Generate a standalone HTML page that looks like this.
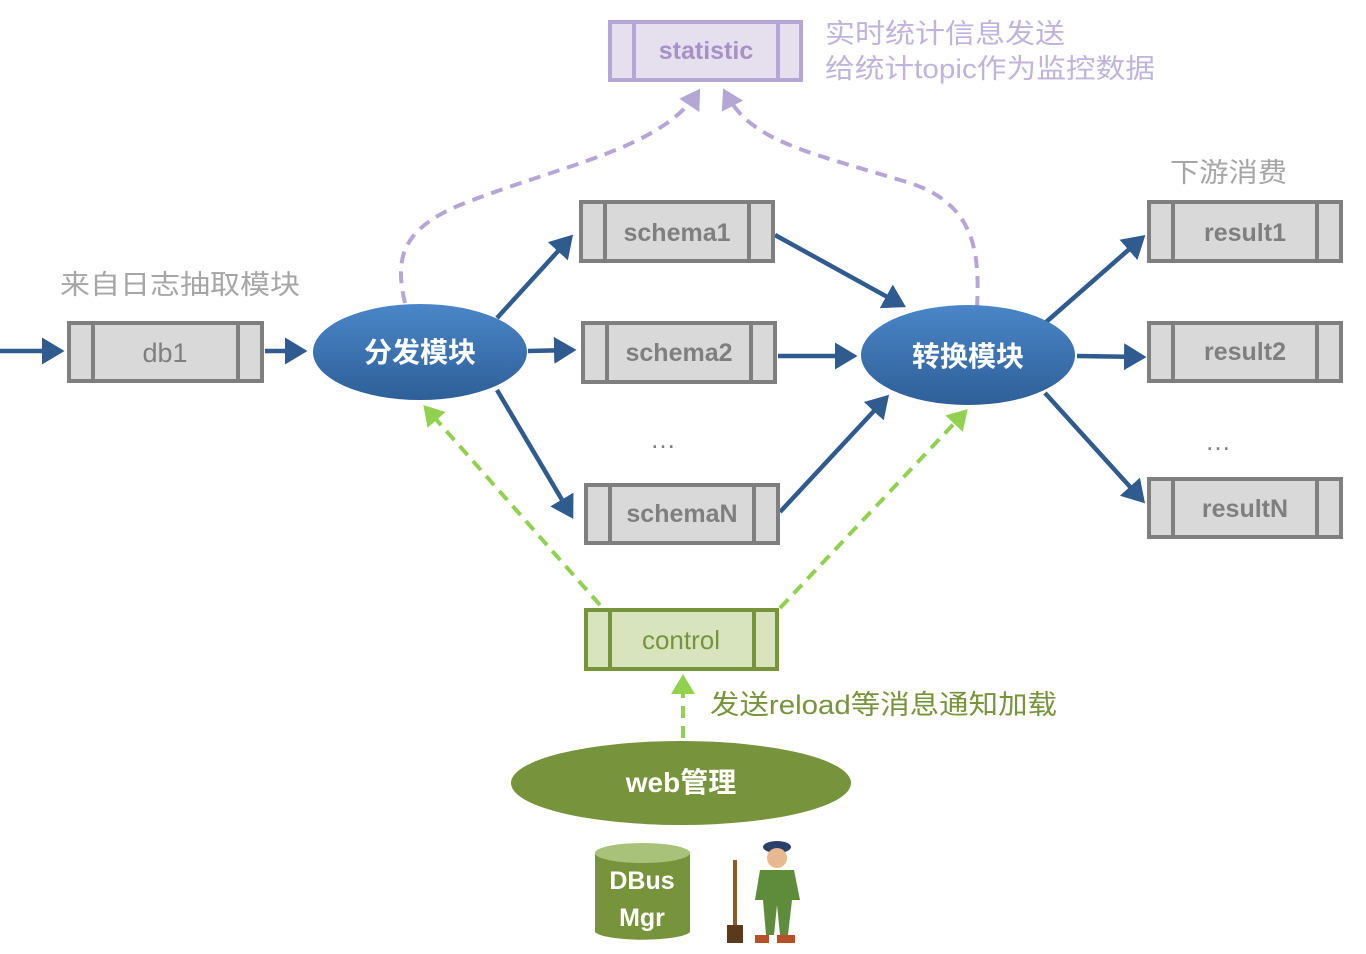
<!DOCTYPE html>
<html><head><meta charset="utf-8"><style>
html,body{margin:0;padding:0;background:#fff;}
svg{display:block}
text{font-family:"Liberation Sans","Noto Sans CJK SC",sans-serif;}
</style></head><body>
<svg width="1366" height="954" viewBox="0 0 1366 954" xmlns="http://www.w3.org/2000/svg">
<defs>
<marker id="ab" markerWidth="6" markerHeight="6" refX="4" refY="3" orient="auto" markerUnits="strokeWidth"><path d="M0,0 L5,3 L0,6 z" fill="#2f5b8e"/></marker>
<marker id="ap" markerWidth="6" markerHeight="6" refX="4" refY="3" orient="auto" markerUnits="strokeWidth"><path d="M0,0 L5,3 L0,6 z" fill="#b4a7d6"/></marker>
<marker id="ag" markerWidth="6" markerHeight="6" refX="4" refY="3" orient="auto" markerUnits="strokeWidth"><path d="M0,0 L5,3 L0,6 z" fill="#92d050"/></marker>
<linearGradient id="gb" x1="0" y1="0" x2="0" y2="1"><stop offset="0" stop-color="#4a86c8"/><stop offset="1" stop-color="#2e5f98"/></linearGradient>
</defs>

<g fill="none" stroke="#b4a7d6" stroke-width="4" stroke-dasharray="12,8">
<path d="M405,303 C395,260 400,230 460,205 C560,165 660,150 698,92" marker-end="url(#ap)"/>
<path d="M977,308 C980,250 975,200 900,180 C800,150 750,140 725,92" marker-end="url(#ap)"/>
</g>
<g fill="none" stroke="#92d050" stroke-width="4" stroke-dasharray="12,8">
<path d="M600,605 L426,408" marker-end="url(#ag)"/>
<path d="M780,608 L965,412" marker-end="url(#ag)"/>
<path d="M683,738 L683,678" marker-end="url(#ag)"/>
</g>
<g fill="none" stroke="#2f5b8e" stroke-width="4.5" marker-end="url(#ab)">
<path d="M0,351 L60,351"/>
<path d="M265,351 L303,351"/>
<path d="M497,318 L570,238"/>
<path d="M528,351 L572,350"/>
<path d="M497,390 L571,515"/>
<path d="M775,235 L902,305"/>
<path d="M778,356 L853,356"/>
<path d="M780,512 L886,398"/>
<path d="M1045,323 L1142,238"/>
<path d="M1077,356 L1142,357"/>
<path d="M1045,393 L1142,500"/>
</g>

<g stroke="#7f7f7f" stroke-width="4" fill="#d9d9d9">
<rect x="69" y="323" width="193" height="58"/><path d="M93,323V381M238,323V381"/>
<rect x="581" y="202" width="192" height="59"/><path d="M605,202V261M749,202V261"/>
<rect x="583" y="323" width="192" height="59"/><path d="M607,323V382M751,323V382"/>
<rect x="586" y="485" width="192" height="58"/><path d="M610,485V543M754,485V543"/>
<rect x="1149" y="202" width="192" height="59"/><path d="M1173,202V261M1317,202V261"/>
<rect x="1149" y="323" width="192" height="58"/><path d="M1173,323V381M1317,323V381"/>
<rect x="1149" y="479" width="192" height="58"/><path d="M1173,479V537M1317,479V537"/>
</g>
<g stroke="#b4a7d6" stroke-width="4" fill="#e5dfee">
<rect x="610" y="22" width="191" height="58"/><path d="M634,22V80M778,22V80"/>
</g>
<g stroke="#77933c" stroke-width="4" fill="#d7e4bd">
<rect x="586" y="610" width="191" height="59"/><path d="M610,610V669M754,610V669"/>
</g>

<g font-size="25" fill="#7f7f7f" text-anchor="middle" font-weight="bold">
<text x="165" y="362" font-weight="normal" font-size="27">db1</text>
<text x="677" y="241">schema1</text>
<text x="679" y="361">schema2</text>
<text x="682" y="522">schemaN</text>
<text x="1245" y="241">result1</text>
<text x="1245" y="360">result2</text>
<text x="1245" y="517">resultN</text>
<text x="706" y="59" fill="#a592c6">statistic</text>
<text x="681" y="649" fill="#77933c" font-weight="normal" font-size="26">control</text>
</g>
<g font-size="26" fill="#7f7f7f" text-anchor="middle">
<text x="663" y="448">…</text>
<text x="1218" y="450">…</text>
</g>

<ellipse cx="420" cy="352" rx="107" ry="48" fill="url(#gb)"/>
<ellipse cx="968" cy="355" rx="107" ry="50" fill="url(#gb)"/>
<ellipse cx="681" cy="783" rx="170" ry="42" fill="#77933c"/>
<g fill="#fff" font-size="28" text-anchor="middle" font-weight="bold">
<text x="420" y="362">分发模块</text>
<text x="968" y="366">转换模块</text>
<text x="681" y="792">web管理</text>
</g>

<path d="M595,853 V932 A48,9 0 0 0 690,932 V853" fill="#77933c"/>
<ellipse cx="642.5" cy="853" rx="47.5" ry="10" fill="#a9c27a"/>
<g fill="#fff" font-size="25" font-weight="bold" text-anchor="middle">
<text x="642" y="889">DBus</text>
<text x="642" y="926">Mgr</text>
</g>
<g>
<rect x="733" y="860" width="4" height="70" fill="#8b5a2b"/>
<path d="M727,925 h16 v18 h-16z" fill="#5a3a1a"/>
<ellipse cx="777" cy="847" rx="14" ry="6" fill="#2a3f6a"/>
<circle cx="777" cy="858" r="10" fill="#e8b890"/>
<path d="M760,870 h34 l6,30 h-8 l-4,35 h-8 l-3,-30 l-3,30 h-8 l-3,-35 h-8z" fill="#5e8c3a"/>
<path d="M755,935 h14 v8 h-14z M777,935 h18 v8 h-18z" fill="#b5502a"/>
</g>

<g font-size="27" fill="#a6a6a6">
<text x="60" y="294" textLength="240" lengthAdjust="spacingAndGlyphs">来自日志抽取模块</text>
<text x="1170" y="182" textLength="117" lengthAdjust="spacingAndGlyphs">下游消费</text>
</g>
<g font-size="27" fill="#c0b3dc">
<text x="825" y="43" textLength="240" lengthAdjust="spacingAndGlyphs">实时统计信息发送</text>
<text x="825" y="78" textLength="330" lengthAdjust="spacingAndGlyphs">给统计topic作为监控数据</text>
</g>
<text x="710" y="714" font-size="27" fill="#77933c" textLength="347" lengthAdjust="spacingAndGlyphs">发送reload等消息通知加载</text>
</svg>
</body></html>
